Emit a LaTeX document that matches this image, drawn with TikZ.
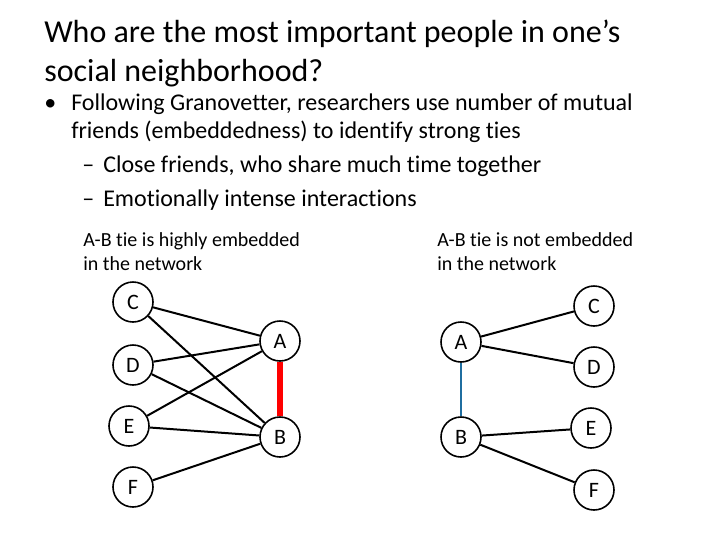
\documentclass[tikz,border=0pt]{standalone}
\usepackage{fontspec}
\setmainfont[RawFeature=-liga]{Carlito}
\begin{document}
\begin{tikzpicture}[x=0.75pt,y=-0.75pt,
  txt/.style={anchor=base west,inner sep=0pt},
  v/.style={circle,draw=black,line width=1.2pt,minimum size=30pt,inner sep=0pt,font=\fontsize{16.5}{18}\selectfont},
  e/.style={line width=1.5pt}]
\useasboundingbox (0,0) rectangle (720,540);
\node[txt,font=\fontsize{24}{28}\selectfont] (t1) at (44,42) {Who are the most important people in one’s};
\node[txt,font=\fontsize{24}{28}\selectfont] (t2) at (44,81) {social neighborhood?};
\node[txt,font=\fontsize{18}{21}\selectfont] (b0) at (44,110) {•};
\node[txt,font=\fontsize{18}{21}\selectfont] (b1) at (71,110) {Following Granovetter, researchers use number of mutual};
\node[txt,font=\fontsize{18}{21}\selectfont] (b2) at (71,138) {friends (embeddedness) to identify strong ties};
\node[txt,font=\fontsize{18}{21}\selectfont] (s1d) at (82,172) {–};
\node[txt,font=\fontsize{18}{21}\selectfont] (s1) at (103,172) {Close friends, who share much time together};
\node[txt,font=\fontsize{18}{21}\selectfont] (s2d) at (82,206) {–};
\node[txt,font=\fontsize{18}{21}\selectfont] (s2) at (103,206) {Emotionally intense interactions};
\node[txt,font=\fontsize{15}{18}\selectfont] (l1) at (83,246) {A-B tie is highly embedded};
\node[txt,font=\fontsize{15}{18}\selectfont] (l2) at (83,270) {in the network};
\node[txt,font=\fontsize{15}{18}\selectfont] (r1) at (437,246) {A-B tie is not embedded};
\node[txt,font=\fontsize{15}{18}\selectfont] (r2) at (437,270) {in the network};
% left
\node[v] (LC) at (133,302) {C};
\node[v] (LD) at (133,365) {D};
\node[v] (LE) at (129,426) {E};
\node[v] (LF) at (133,487) {F};
\node[v] (LA) at (280,341) {A};
\node[v] (LB) at (280,437) {B};
\foreach \s/\t in {LC/LA,LC/LB,LD/LA,LD/LB,LE/LA,LE/LB,LF/LB} \draw[e] (\s) -- (\t);
\draw[line width=4pt,red] (LA) -- (LB);
% right
\node[v] (RA) at (461,342) {A};
\node[v] (RB) at (461,437) {B};
\node[v] (RC) at (594,306) {C};
\node[v] (RD) at (594,367) {D};
\node[v] (RE) at (591,428) {E};
\node[v] (RF) at (594,490) {F};
\foreach \s/\t in {RA/RC,RA/RD,RB/RE,RB/RF} \draw[e] (\s) -- (\t);
\draw[line width=1.8pt,color={rgb,255:red,31;green,110;blue,160}] (RA) -- (RB);
\end{tikzpicture}
\end{document}
